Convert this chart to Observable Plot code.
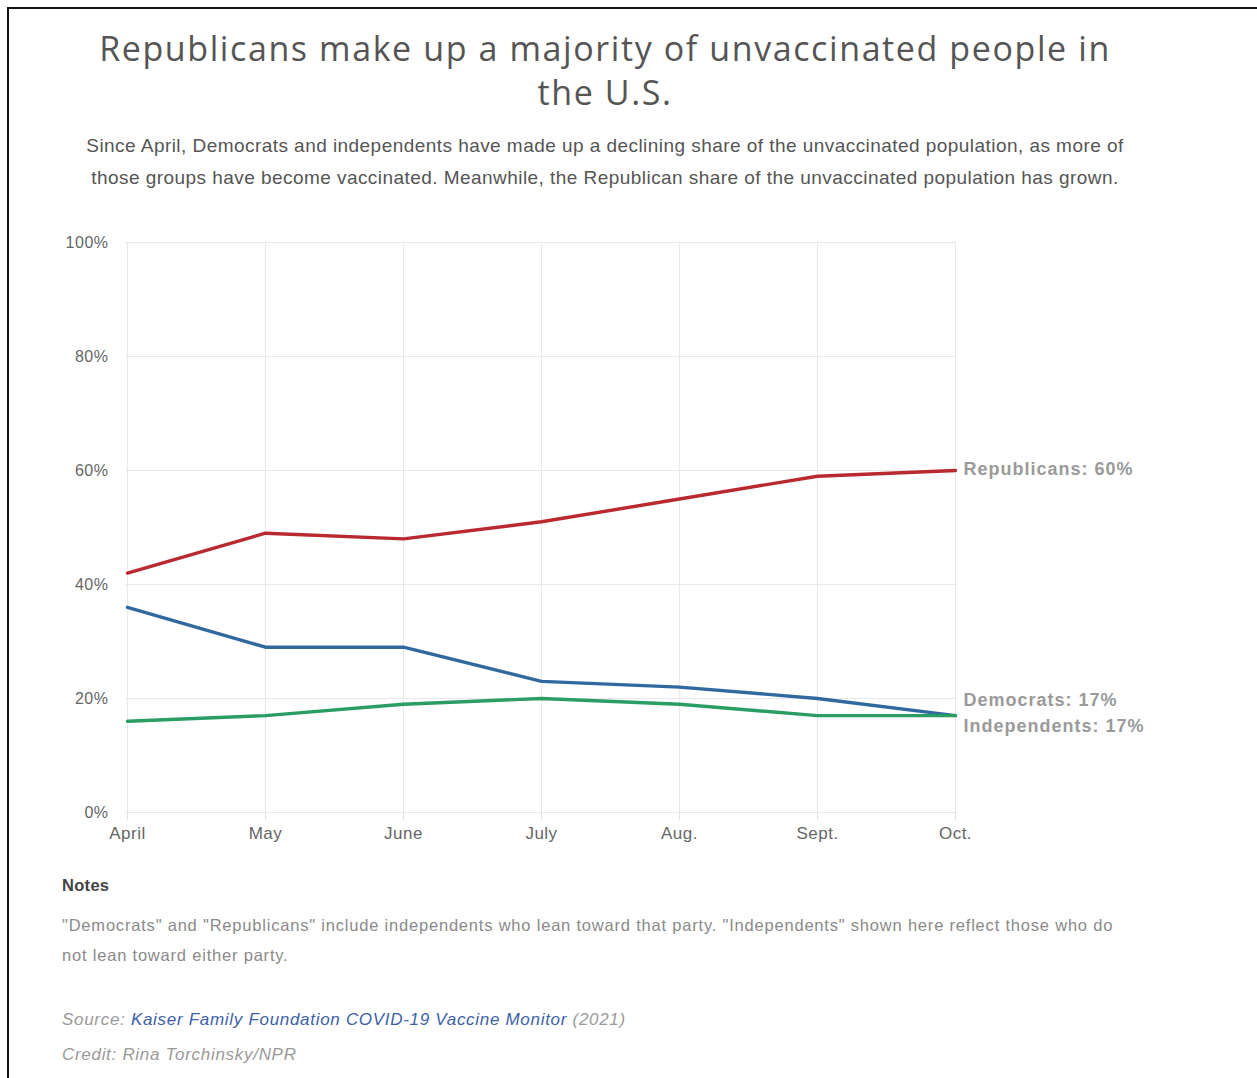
<!DOCTYPE html>
<html>
<head>
<meta charset="utf-8">
<script src="https://cdn.jsdelivr.net/npm/d3@7"></script>
<script src="https://cdn.jsdelivr.net/npm/@observablehq/plot@0.6"></script>
<style>
  html, body { margin: 0; padding: 0; background: #fff; }
  body { width: 1257px; height: 1078px; position: relative; overflow: hidden; font-family: "Liberation Sans", Arial, sans-serif; }
  #frame { position: absolute; left: 7px; top: 7px; width: 1260px; height: 1080px; border-left: 2px solid #111; border-top: 2px solid #111; }
  .abs { position: absolute; white-space: nowrap; }
  #title { left: 20px; width: 1170px; top: 26px; text-align: center; font-family: "Open Sans", sans-serif; font-size: 34px; letter-spacing: 1.6px; line-height: 44px; color: #555; white-space: normal; }
  .sub { left: 20px; width: 1170px; text-align: center; font-size: 19px; letter-spacing: 0.45px; line-height: 32px; color: #555; }
  #chart { position: absolute; left: 0; top: 222px; }
  .note { left: 62px; font-size: 16.5px; letter-spacing: 0.8px; line-height: 30px; color: #8a8a8a; }
  .cap { left: 62px; font-size: 17px; letter-spacing: 0.7px; line-height: 30px; color: #9a9a9a; font-style: italic; }
  .cap a { color: #3e5fa8; text-decoration: none; }
  #chart text { letter-spacing: 0.5px; }
  #chart .endlabel text { letter-spacing: 1px; }
</style>
</head>
<body>
<div id="frame"></div>
<div id="title" class="abs">Republicans make up a majority of unvaccinated people in<br>the U.S.</div>
<div class="abs sub" style="top:130px">Since April, Democrats and independents have made up a declining share of the unvaccinated population, as more of</div>
<div class="abs sub" style="top:162px">those groups have become vaccinated. Meanwhile, the Republican share of the unvaccinated population has grown.</div>
<div id="chart"></div>
<div class="abs" style="left:62px; top:870px; font-size:16.5px; letter-spacing:0.3px; line-height:30px; font-weight:bold; color:#444;">Notes</div>
<div class="abs note" style="top:910px">"Democrats" and "Republicans" include independents who lean toward that party. "Independents" shown here reflect those who do</div>
<div class="abs note" style="top:940px">not lean toward either party.</div>
<div class="abs cap" style="top:1005px">Source: <a>Kaiser Family Foundation COVID-19 Vaccine Monitor</a> (2021)</div>
<div class="abs cap" style="top:1040px">Credit: Rina Torchinsky/NPR</div>
<script>
const months = ["April", "May", "June", "July", "Aug.", "Sept.", "Oct."];
const republicans = [42, 49, 48, 51, 55, 59, 60];
const democrats = [36, 29, 29, 23, 22, 20, 17];
const independents = [16, 17, 19, 20, 19, 17, 17];
const yTicks = [0, 20, 40, 60, 80, 100];
const seriesNames = ["Republicans", "Democrats", "Independents"];
const seriesColors = ["#b9292f", "#30699f", "#2a9d63"];

const seriesValues = [republicans, democrats, independents];
const data = seriesNames.flatMap((name, i) =>
  months.map((m, j) => ({ series: name, month: m, value: seriesValues[i][j] }))
);
const last = seriesNames.map((name, i) => ({ series: name, month: months[months.length - 1], value: seriesValues[i][months.length - 1] }));

const labelOpts = (dy) => ({ x: "month", y: "value", text: d => `${d.series}: ${d.value}%`, textAnchor: "start", dx: 8, dy, fontSize: 18, fontWeight: "bold", fill: "#9a9a9a", className: "endlabel" });

const chart = Plot.plot({
  width: 1257,
  height: 630,
  marginLeft: 125,
  marginRight: 301,
  marginTop: 20,
  marginBottom: 40,
  style: { fontFamily: "'Liberation Sans', Arial, sans-serif", background: "transparent", overflow: "visible" },
  x: { type: "point", domain: months, padding: 0 },
  y: { domain: [0, 100] },
  color: { domain: seriesNames, range: seriesColors },
  marks: [
    Plot.ruleX(months, { x: d => d, stroke: "#e9e9e9", strokeWidth: 1 }),
    Plot.ruleY(yTicks, { y: d => d, stroke: "#e9e9e9", strokeWidth: 1 }),
    Plot.axisY({ ticks: yTicks, tickFormat: d => d + "%", tickSize: 0, tickPadding: 17, fontSize: 16, color: "#666", label: null }),
    Plot.axisX({ tickSize: 8, tickPadding: 6, fontSize: 17, color: "#666", stroke: "#e0e0e0", label: null }),
    Plot.line(data, { x: "month", y: "value", z: "series", stroke: "series", strokeWidth: 3.4, curve: "linear" }),
    Plot.text(last.filter(d => d.series === "Republicans"), labelOpts(-1)),
    Plot.text(last.filter(d => d.series === "Democrats"), labelOpts(-15)),
    Plot.text(last.filter(d => d.series === "Independents"), labelOpts(11))
  ]
});
document.getElementById("chart").appendChild(chart);
</script>
</body>
</html>
